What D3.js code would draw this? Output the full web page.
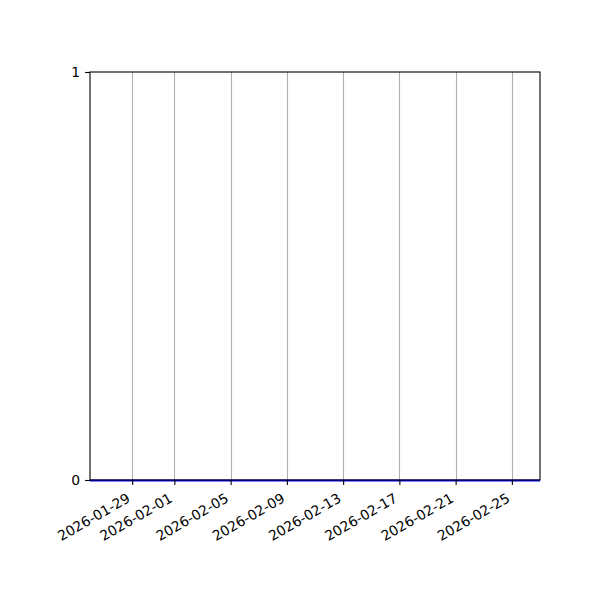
<!DOCTYPE html>
<html><head><meta charset="utf-8">
<script src="https://cdn.jsdelivr.net/npm/d3@7"></script>
<style>body{margin:0;background:#fff}</style>
</head><body>
<svg id="c" width="600" height="600"></svg>
<script>
const dates = ["2026-01-26","2026-01-27","2026-01-28","2026-01-29","2026-01-30","2026-01-31","2026-02-01","2026-02-02","2026-02-03","2026-02-04","2026-02-05","2026-02-06","2026-02-07","2026-02-08","2026-02-09","2026-02-10","2026-02-11","2026-02-12","2026-02-13","2026-02-14","2026-02-15","2026-02-16","2026-02-17","2026-02-18","2026-02-19","2026-02-20","2026-02-21","2026-02-22","2026-02-23","2026-02-24","2026-02-25","2026-02-26","2026-02-27"];
const values = [0,0,0,0,0,0,0,0,0,0,0,0,0,0,0,0,0,0,0,0,0,0,0,0,0,0,0,0,0,0,0,0,0];
const xTickLabels = ["2026-01-29","2026-02-01","2026-02-05","2026-02-09","2026-02-13","2026-02-17","2026-02-21","2026-02-25"];
const yTickLabels = [0, 1];
const xDomain = ["2026-01-26","2026-02-27"];

const parse = d3.utcParse("%Y-%m-%d");
const fmt = d3.utcFormat("%Y-%m-%d");
const L = 90, R = 540, T = 72, B = 480;
const svg = d3.select("#c");
const x = d3.scaleUtc().domain(xDomain.map(parse)).range([L, R]);
const y = d3.scaleLinear().domain([0, 1]).range([B, T]);
const font = "DejaVu Sans, sans-serif";

// grid
svg.append("g").selectAll("line").data(xTickLabels.map(parse)).join("line")
  .attr("x1", d => Math.round(x(d)) + 0.5).attr("x2", d => Math.round(x(d)) + 0.5)
  .attr("y1", T).attr("y2", B)
  .attr("stroke", "#b0b0b0").attr("stroke-width", 1.1);

// line
const line = d3.line().x((d, i) => x(parse(dates[i]))).y(d => y(d) + 0.5);
svg.append("path").datum(values).attr("d", line)
  .attr("fill", "none").attr("stroke", "#0000ff").attr("stroke-width", 2);

// x axis
const xAxis = d3.axisBottom(x).tickValues(xTickLabels.map(parse)).tickFormat(fmt)
  .tickSize(4.9).tickPadding(4.9).tickSizeOuter(0);
const gx = svg.append("g").attr("transform", `translate(0,${B})`).call(xAxis);
gx.select(".domain").remove();
gx.selectAll(".tick line").attr("stroke", "#000").attr("stroke-width", 1.1);
gx.selectAll(".tick text")
  .attr("font-family", font).attr("font-size", "13.9px").attr("fill", "#000")
  .attr("text-anchor", "end").attr("dy", null)
  .attr("transform", "translate(-1.5,21) rotate(-30)")
  .attr("y", 0).attr("x", 0);

// y axis
const yAxis = d3.axisLeft(y).tickValues(yTickLabels).tickFormat(d3.format("d"))
  .tickSize(4.9).tickPadding(4.9).tickSizeOuter(0);
const gy = svg.append("g").attr("transform", `translate(${L},0)`).call(yAxis);
gy.select(".domain").remove();
gy.selectAll(".tick line").attr("stroke", "#000").attr("stroke-width", 1.1);
gy.selectAll(".tick text").attr("font-family", font).attr("font-size", "13.9px").attr("fill", "#000");

// spines
svg.append("rect").attr("x", L).attr("y", T).attr("width", R - L).attr("height", B - T)
  .attr("fill", "none").attr("stroke", "#000").attr("stroke-width", 1.1);
</script>
</body></html>
